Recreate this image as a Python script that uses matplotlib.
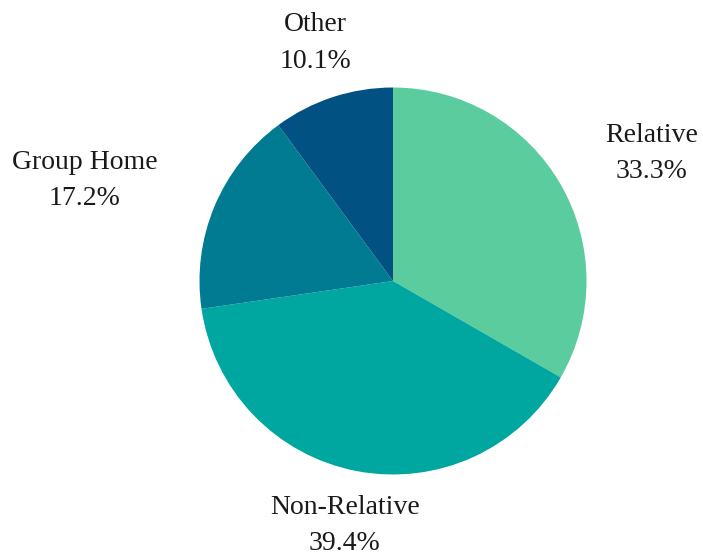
import matplotlib.pyplot as plt

# data
labels = ['Relative', 'Non-Relative', 'Group Home', 'Other']
shares = [33.3, 39.4, 17.2, 10.1]
colors = ['#5BCC9D', '#00A6A0', '#007B92', '#015283']

# label positions in radius units (from pie centre)
label_pos = [(1.335, 0.66), (-0.25, -1.265), (-1.595, 0.52), (-0.40, 1.23)]

fig = plt.figure(figsize=(7.03, 5.57), dpi=100)
ax = fig.add_axes([(393 - 193.5) / 703, (557 - 281 - 193.5) / 557, 387 / 703, 387 / 557])

ax.pie(shares, colors=colors, startangle=90, counterclock=False, radius=1.0,
       wedgeprops=dict(linewidth=0))
ax.set_xlim(-1, 1)
ax.set_ylim(-1, 1)
ax.set_aspect('equal')

for lab, val, (x, y) in zip(labels, shares, label_pos):
    ax.text(x, y, f'{lab}\n{val:.1f}%', ha='center', va='center',
            fontsize=20, family='Liberation Serif', linespacing=1.6,
            color='#1a1a1a', clip_on=False)

fig.savefig('out.png', dpi=100)
